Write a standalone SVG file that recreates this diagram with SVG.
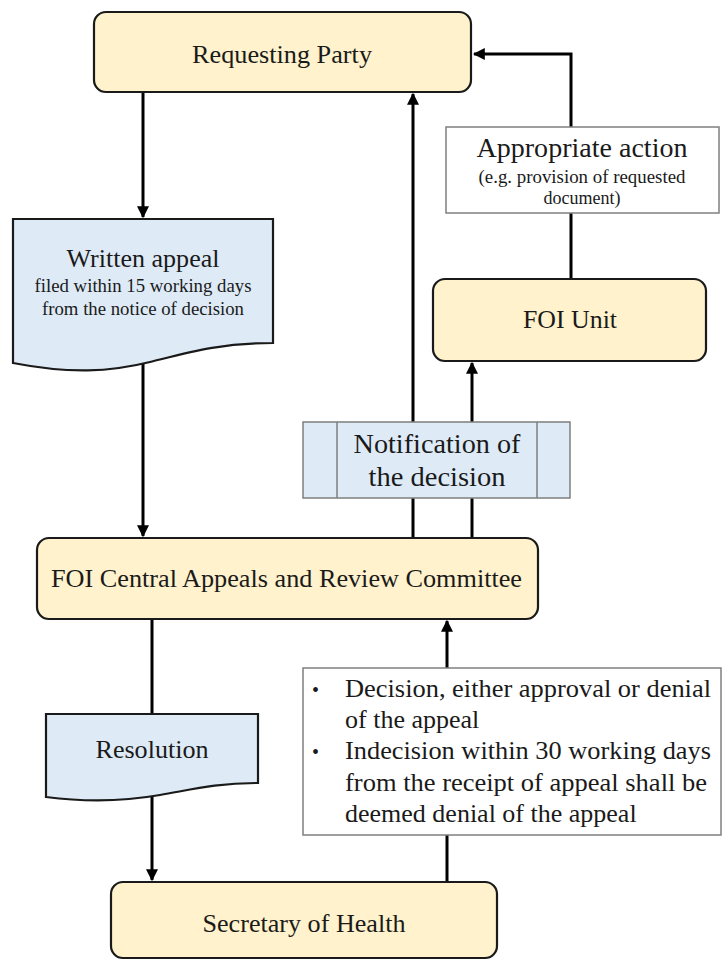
<svg xmlns="http://www.w3.org/2000/svg" width="724" height="960" viewBox="0 0 724 960">
<defs>
<marker id="ah" viewBox="0 0 10 10" refX="9" refY="5" markerWidth="4" markerHeight="4" orient="auto" markerUnits="strokeWidth">
<path d="M0,0 L10,5 L0,10 z" fill="#000"/>
</marker>
<style>
.t{font-family:"Liberation Serif","Times New Roman",serif;fill:#1a1a1a;text-anchor:middle}
.node{fill:#FFF2CC;stroke:#1a1a1a;stroke-width:2.2}
.doc{fill:#DEEBF7;stroke:#1a1a1a;stroke-width:2.2}
.box{fill:#fff;stroke:#7f7f7f;stroke-width:1.5}
.proc{fill:#DEEBF7;stroke:#7f7f7f;stroke-width:1.5}
.c{fill:none;stroke:#000;stroke-width:3}
</style>
</defs>
<rect width="724" height="960" fill="#fff"/>
<g id="connectors">
<path class="c" d="M143,92 V217" marker-end="url(#ah)"/>
<path class="c" d="M143,362 V536" marker-end="url(#ah)"/>
<path class="c" d="M413,538 V94" marker-end="url(#ah)"/>
<path class="c" d="M472,538 V363" marker-end="url(#ah)"/>
<path class="c" d="M571,279 V54 H474" marker-end="url(#ah)"/>
<path class="c" d="M152,619 V880" marker-end="url(#ah)"/>
<path class="c" d="M447,882 V621" marker-end="url(#ah)"/>
</g>
<g id="requesting-party">
<rect class="node" x="94" y="12" width="377" height="80" rx="12"/>
<text class="t" x="282" y="63" font-size="26" textLength="180" lengthAdjust="spacingAndGlyphs">Requesting Party</text>
</g>
<g id="appropriate-action">
<rect class="box" x="446" y="127" width="273" height="86"/>
<text class="t" x="582" y="157" font-size="27" textLength="211" lengthAdjust="spacingAndGlyphs">Appropriate action</text>
<text class="t" x="582" y="183" font-size="18" textLength="207" lengthAdjust="spacingAndGlyphs">(e.g. provision of requested</text>
<text class="t" x="582" y="204" font-size="18">document)</text>
</g>
<g id="written-appeal">
<path class="doc" d="M13,219 H273 V343 C220,343 190,352 150,362 C110,372 70,374 13,363 Z"/>
<text class="t" x="143" y="267" font-size="26" textLength="153" lengthAdjust="spacingAndGlyphs">Written appeal</text>
<text class="t" x="143" y="292" font-size="19" textLength="217" lengthAdjust="spacingAndGlyphs">filed within 15 working days</text>
<text class="t" x="143" y="315" font-size="19" textLength="202" lengthAdjust="spacingAndGlyphs">from the notice of decision</text>
</g>
<g id="foi-unit">
<rect class="node" x="433" y="279" width="273" height="82" rx="12"/>
<text class="t" x="570" y="328" font-size="25" textLength="94" lengthAdjust="spacingAndGlyphs">FOI Unit</text>
</g>
<g id="notification">
<rect class="proc" x="303" y="422" width="267" height="76"/>
<line x1="337" y1="422" x2="337" y2="498" stroke="#7f7f7f" stroke-width="1.5"/>
<line x1="537" y1="422" x2="537" y2="498" stroke="#7f7f7f" stroke-width="1.5"/>
<text class="t" x="437" y="453" font-size="27" textLength="167" lengthAdjust="spacingAndGlyphs">Notification of</text>
<text class="t" x="437" y="486" font-size="27" textLength="137" lengthAdjust="spacingAndGlyphs">the decision</text>
</g>
<g id="foi-central">
<rect class="node" x="37" y="538" width="501" height="81" rx="12"/>
<text class="t" x="286.5" y="587" font-size="25" textLength="471" lengthAdjust="spacingAndGlyphs">FOI Central Appeals and Review Committee</text>
</g>
<g id="resolution">
<path class="doc" d="M46,714 H258 V783 C215,783 190,790 160,795 C120,802 85,802 46,797 Z"/>
<text class="t" x="152" y="758" font-size="26" textLength="113" lengthAdjust="spacingAndGlyphs">Resolution</text>
</g>
<g id="decision-note">
<rect class="box" x="303" y="668" width="418" height="167"/>
<g font-family="Liberation Serif, Times New Roman, serif" font-size="26" fill="#1a1a1a">
<text x="312" y="697" font-size="20">•</text>
<text x="345" y="697" textLength="366" lengthAdjust="spacingAndGlyphs">Decision, either approval or denial</text>
<text x="345" y="728">of the appeal</text>
<text x="312" y="759" font-size="20">•</text>
<text x="345" y="759" textLength="366" lengthAdjust="spacingAndGlyphs">Indecision within 30 working days</text>
<text x="345" y="791" textLength="362" lengthAdjust="spacingAndGlyphs">from the receipt of appeal shall be</text>
<text x="345" y="822">deemed denial of the appeal</text>
</g>
</g>
<g id="secretary">
<rect class="node" x="111" y="882" width="386" height="76" rx="12"/>
<text class="t" x="304" y="932" font-size="26" textLength="203" lengthAdjust="spacingAndGlyphs">Secretary of Health</text>
</g>
</svg>
